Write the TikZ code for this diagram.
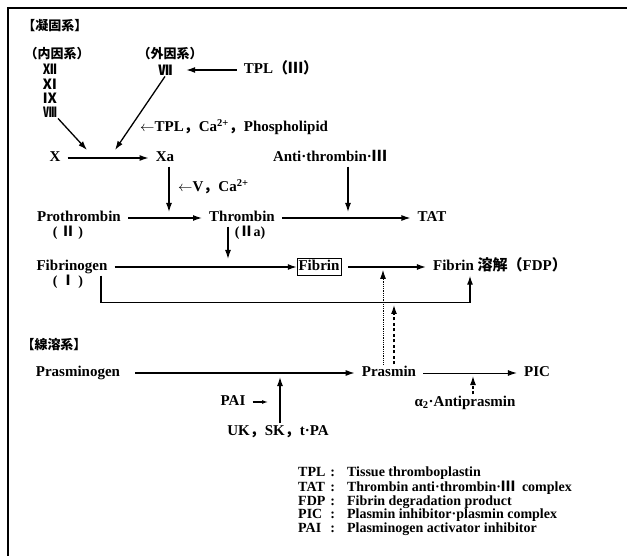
\documentclass[tikz,border=0pt]{standalone}
\usepackage{fontspec}
\setmainfont{Liberation Serif}
\newfontfamily\jp{Noto Sans CJK JP}
\usetikzlibrary{arrows.meta, positioning}

\newcommand{\zc}{{\jp ，}}

\begin{document}
\begin{tikzpicture}[
    x=1pt, y=-1pt,
    every node/.style={font=\bfseries\fontsize{15}{17}\selectfont},
    lbl/.style={inner xsep=7pt, inner ysep=2pt, text height=10pt, text depth=3pt},
    rnum/.style={inner sep=1pt, font=\jp\bfseries\fontsize{14}{15}\selectfont},
    sub/.style={inner sep=1pt, font=\bfseries\fontsize{14}{15}\selectfont},
    head/.style={inner sep=1pt, font=\jp\bfseries\fontsize{13}{15}\selectfont},
    fbox/.style={draw=black, line width=0.6pt, inner xsep=1.5pt, inner ysep=2pt, text height=10pt, text depth=3pt},
    arrow/.style={-{Latex[length=9pt,width=6pt]}, line width=1.3pt},
    smallarrow/.style={-{Latex[length=6pt,width=4pt]}, line width=1.1pt},
    dotarrow/.style={arrow, line width=0.8pt, densely dotted},
    dasharrow/.style={arrow, line width=1.3pt, dash pattern=on 3pt off 2.5pt}
]
\useasboundingbox (0,0) rectangle (627,556);

% FRAME
\draw[line width=2pt] (627,8) -- (8,8) -- (8,556);

% COAGULATION
\node[head] (coag) at (55,26) {【凝固系】};
\node[head] (intr) at (57,54) {（内因系）};
\node[head] (extr) at (170,54) {（外因系）};
\node[rnum, anchor=east] (f12) at (58,69) {Ⅻ};
\node[rnum, anchor=east] (f11) at (58,84) {Ⅺ};
\node[rnum, anchor=east] (f9) at (58,98) {Ⅸ};
\node[rnum, anchor=east] (f8) at (58,112) {Ⅷ};
\node[rnum] (f7) at (165,70) {Ⅶ};
\node[lbl] (tpl) at (281,70) {TPL{\jp （Ⅲ）}};
\node[lbl, anchor=west] (cof1) at (133,128) {$\leftarrow$TPL\zc Ca\textsuperscript{2+}\zc Phospholipid};

\node[lbl] (X) at (55,158) {X};
\node[lbl] (Xa) at (165,158) {Xa};
\node[lbl] (antith) at (330,158) {Anti·thrombin·{\jp Ⅲ}};
\node[lbl, anchor=west] (cof2) at (171,188) {$\leftarrow$V\zc Ca\textsuperscript{2+}};

\node[lbl] (prothr) at (79,218) {Prothrombin};
\node[lbl] (thr) at (242,218) {Thrombin};
\node[lbl] (tat) at (432,218) {TAT};
\node[sub] (f2) at (68,233) {( {\jp Ⅱ} )};
\node[sub] (f2a) at (250,233) {({\jp Ⅱ}a)};

\node[lbl] (fbg) at (72,267) {Fibrinogen};
\node[fbox] (fibrin) at (319,267) {Fibrin};
\node[lbl] (fdp) at (500,267) {Fibrin {\jp 溶解（}FDP{\jp ）}};
\node[sub] (f1) at (68,282) {( {\jp Ⅰ} )};

\coordinate (xin1) at (87,150);
\coordinate (xin2) at (115,150);
\coordinate (xain) at (169,212);
\coordinate (tatin) at (348,212);
\coordinate (fbin) at (228,259);

\draw[arrow] (tpl) -- (f7.east) [shorten >=13pt];
\draw[arrow] (f8.south east) -- (xin1);
\draw[arrow] (f7.south) -- (xin2);
\draw[arrow] (X) -- (Xa);
\draw[arrow] (Xa.south -| xain) -- (xain);
\draw[arrow] (prothr) -- (thr);
\draw[arrow] (thr) -- (tat);
\draw[arrow] (antith.south -| tatin) -- (tatin);
\draw[arrow] (thr.south -| fbin) -- (fbin);
\draw[arrow] (fbg) -- (fibrin);
\draw[arrow, shorten <=7pt] (fibrin) -- (fdp);
\draw[arrow] ([xshift=29pt]fbg.south) -- ++(0,27) -| ([xshift=-30pt]fdp.south);

% FIBRINOLYSIS
\node[head] (fibr) at (54,345) {【線溶系】};
\node[lbl] (plg) at (78,373) {Prasminogen};
\node[lbl] (pls) at (389,373) {Prasmin};
\node[lbl] (pic) at (537,373) {PIC};
\node[lbl] (pai) at (233,402) {PAI};
\node[lbl] (uk) at (278,432) {UK\zc SK\zc t·PA};
\node[lbl] (a2ap) at (465,403) {α\textsubscript{2}·Antiprasmin};

\coordinate (plgin) at (280,377);
\coordinate (paiin) at (268,402);
\coordinate (picin) at (473,376);
\coordinate (fdpin1) at (383,270);
\coordinate (fdpin2) at (394,305);

\draw[arrow, shorten <=8pt] (plg) -- (pls);
\draw[arrow, line width=1pt] (pls) -- (pic);
\draw[arrow] (uk.north -| plgin) -- (plgin);
\draw[smallarrow] (pai) -- (paiin);
\draw[dasharrow] (a2ap.north -| picin) -- (picin);
\draw[dotarrow] (pls.north -| fdpin1) -- (fdpin1);
\draw[dasharrow] (pls.north -| fdpin2) -- (fdpin2);

% LEGEND
\node[anchor=north west, inner sep=0, font=\bfseries\fontsize{14}{13.4}\selectfont] (legend) at (298,467) {%
  \begin{tabular}{@{}l@{\hspace{5pt}}l@{\hspace{12pt}}l@{}}
    TPL & : & Tissue thromboplastin\\
    TAT & : & Thrombin anti·thrombin·{\jp Ⅲ}\ \ complex\\
    FDP & : & Fibrin degradation product\\
    PIC & : & Plasmin inhibitor·plasmin complex\\
    PAI & : & Plasminogen activator inhibitor
  \end{tabular}};

\end{tikzpicture}
\end{document}
